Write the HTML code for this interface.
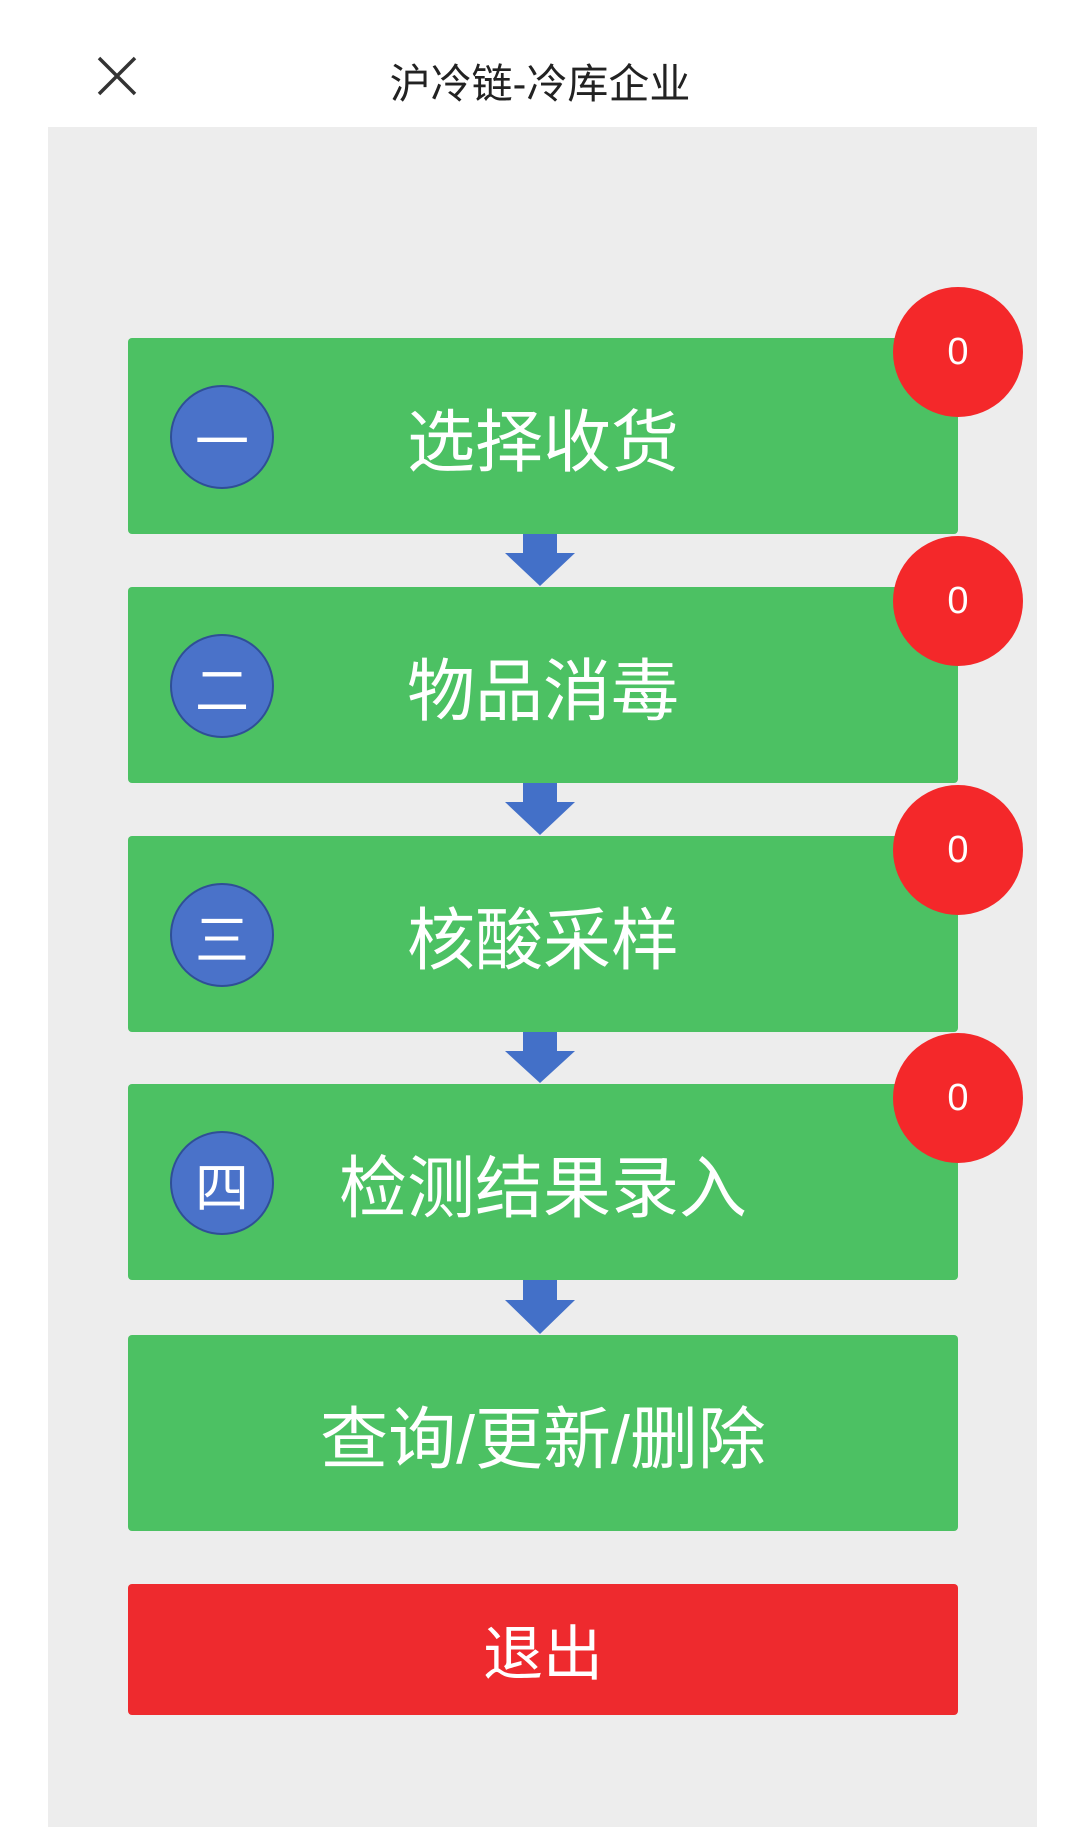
<!DOCTYPE html>
<html><head><meta charset="utf-8"><style>
body{margin:0;width:1080px;height:1794px;background:#fff;position:relative;overflow:hidden;font-family:"Liberation Sans","Noto Sans CJK SC",sans-serif}
.abs{position:absolute}
.panel{left:48px;top:127px;width:989px;height:1700px;background:#ededed}
.box{left:128px;width:830px;height:196px;background:#4cc163;border-radius:4px;color:#fff;font-size:68px;display:flex;align-items:center;justify-content:center}
.num{width:104px;height:104px;border-radius:50%;background:#4a72c9;border:2px solid #2f4f96;color:#fff;font-size:54px;display:flex;align-items:center;justify-content:center;box-sizing:border-box}
.badge{width:130px;height:130px;border-radius:50%;background:#f4282a;color:#fff;font-size:38px;display:flex;align-items:center;justify-content:center}
</style></head><body>
<svg class="abs" style="left:96px;top:56px" width="42" height="40"><path d="M3 2 L39 38 M39 2 L3 38" stroke="#333" stroke-width="3.5"/></svg>
<div class="abs" style="left:0;width:1080px;top:50px;text-align:center;font-size:41px;color:#222">沪冷链-冷库企业</div>
<div class="abs panel"></div>

<div class="abs box" style="top:338px">选择收货</div>
<div class="abs box" style="top:587px">物品消毒</div>
<div class="abs box" style="top:836px">核酸采样</div>
<div class="abs box" style="top:1084px">检测结果录入</div>
<div class="abs box" style="top:1335px">查询/更新/删除</div>
<div class="abs box" style="top:1584px;height:131px;background:#ee2a2e;font-size:60px">退出</div>

<div class="abs num" style="left:170px;top:385px">一</div>
<div class="abs num" style="left:170px;top:634px">二</div>
<div class="abs num" style="left:170px;top:883px">三</div>
<div class="abs num" style="left:170px;top:1131px">四</div>

<div class="abs badge" style="left:893px;top:287px">0</div>
<div class="abs badge" style="left:893px;top:536px">0</div>
<div class="abs badge" style="left:893px;top:785px">0</div>
<div class="abs badge" style="left:893px;top:1033px">0</div>

<svg class="abs" style="left:0;top:0" width="1080" height="1794">
<g fill="#4370c8">
<polygon points="523,534 557,534 557,553 575,553 540,586 505,553 523,553"/>
<polygon points="523,783 557,783 557,802 575,802 540,835 505,802 523,802"/>
<polygon points="523,1032 557,1032 557,1051 575,1051 540,1083 505,1051 523,1051"/>
<polygon points="523,1280 557,1280 557,1300 575,1300 540,1334 505,1300 523,1300"/>
</g>
</svg>
</body></html>
